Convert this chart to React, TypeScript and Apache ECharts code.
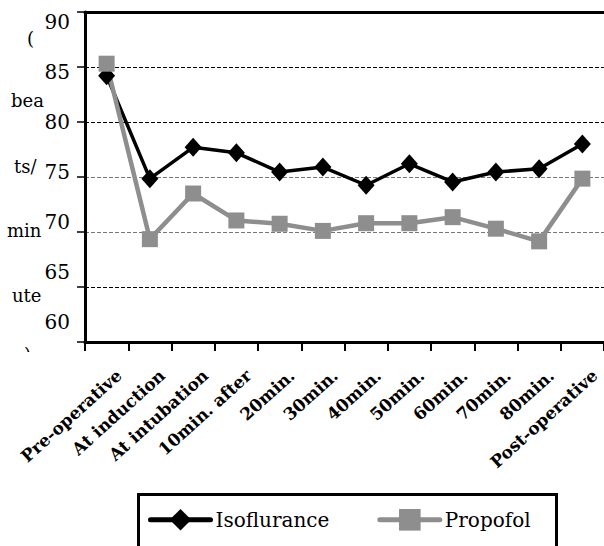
import React, { useEffect, useRef } from "react";
import * as echarts from "echarts";

const categories = [
  "Pre-operative",
  "At induction",
  "At intubation",
  "10min. after",
  "20min.",
  "30min.",
  "40min.",
  "50min.",
  "60min.",
  "70min.",
  "80min.",
  "Post-operative",
];
const isoflurance = [84.2, 74.85, 77.7, 77.2, 75.45, 75.9, 74.25, 76.2, 74.55, 75.45, 75.75, 78.0];
const propofol = [85.3, 69.35, 73.5, 71.05, 70.75, 70.1, 70.8, 70.8, 71.35, 70.3, 69.15, 74.85];
const yTickLabels = [60, 65, 70, 75, 80, 85, 90];
const seriesNames = ["Isoflurance", "Propofol"];
const yTitleParts = ["(", "bea", "ts/", "min", "ute", ")"];

const FONT = "DejaVu Serif";

export default function App() {
  const ref = useRef<HTMLDivElement>(null);
  useEffect(() => {
    if (!ref.current) return;
    const chart = echarts.init(ref.current, undefined, { renderer: "svg" });
    const titlePos = [
      [27, 40],
      [11, 102],
      [14, 168],
      [7, 232],
      [12, 297],
      [24, 356],
    ];
    const option: any = {
      animation: false,
      backgroundColor: "#fff",
      textStyle: { fontFamily: FONT },
      grid: { left: 85, top: 12, right: 0, bottom: 204, containLabel: false },
      xAxis: [
        {
          type: "category",
          data: categories,
          boundaryGap: true,
          axisLine: { show: true, lineStyle: { color: "#000", width: 3 } },
          axisTick: { show: true, length: 9, lineStyle: { color: "#000", width: 2 } },
          axisLabel: {
            interval: 0,
            rotate: 42,
            margin: 17,
            padding: [10, 0, 0, 0],
            align: "right",
            verticalAlign: "top",
            color: "#000",
            fontFamily: FONT,
            fontSize: 17,
            fontWeight: "bold",
          },
          splitLine: { show: false },
        },
        {
          type: "category",
          position: "top",
          data: categories,
          axisLine: { show: true, lineStyle: { color: "#000", width: 3 } },
          axisTick: { show: false },
          axisLabel: { show: false },
        },
      ],
      yAxis: [
        {
          type: "value",
          position: "left",
          min: 60,
          max: 90,
          interval: 5,
          axisLine: { show: true, lineStyle: { color: "#000", width: 3 } },
          axisTick: { show: true, length: 8, lineStyle: { color: "#000", width: 1.5 } },
          axisLabel: { show: false },
          splitLine: {
            show: true,
            lineStyle: {
              color: ["#000", "#000", "#777", "#777", "#000", "#000", "#000"],
              type: [4, 2],
              width: 1,
            },
          },
        },
        {
          type: "value",
          position: "left",
          min: 58,
          max: 91,
          axisLine: { show: false },
          axisTick: { show: false },
          splitLine: { show: false },
          axisLabel: {
            show: true,
            customValues: yTickLabels,
            margin: 15,
            color: "#000",
            fontFamily: FONT,
            fontSize: 20,
          },
        },
      ],
      legend: {
        show: true,
        left: 143,
        top: 504,
        itemWidth: 60,
        itemHeight: 27,
        itemGap: 48,
        data: seriesNames,
        textStyle: { color: "#000", fontFamily: FONT, fontSize: 20 },
        lineStyle: { width: 5, cap: "round" },
      },
      graphic: [
        ...yTitleParts.map((t, i) => ({
          type: "text",
          left: titlePos[i][0],
          top: titlePos[i][1] - 11,
          z: 1,
          style: { text: t, fill: "#000", fontFamily: FONT, fontSize: 18 },
        })),
        {
          type: "rect",
          left: 0,
          top: 352,
          z: 2,
          shape: { width: 70, height: 30 },
          style: { fill: "#fff" },
        },
        {
          type: "rect",
          left: 136,
          top: 492,
          z: 3,
          shape: { width: 418, height: 80 },
          style: { fill: "none", stroke: "#000", lineWidth: 3 },
        },
      ],
      series: [
        {
          name: seriesNames[0],
          type: "line",
          data: isoflurance,
          xAxisIndex: 0,
          yAxisIndex: 0,
          symbol: "diamond",
          symbolSize: [17, 19],
          color: "#000",
          lineStyle: { color: "#000", width: 3.5 },
          itemStyle: { color: "#000" },
        },
        {
          name: seriesNames[1],
          type: "line",
          data: propofol,
          xAxisIndex: 0,
          yAxisIndex: 0,
          symbol: "rect",
          symbolSize: 16,
          color: "#8e8e8e",
          lineStyle: { color: "#8e8e8e", width: 4.5 },
          itemStyle: { color: "#8e8e8e" },
        },
      ],
    };
    chart.setOption(option);
    return () => chart.dispose();
  }, []);
  return (
    <div
      ref={ref}
      style={{ position: "absolute", left: 0, top: 0, width: 604, height: 546, background: "#fff" }}
    />
  );
}
